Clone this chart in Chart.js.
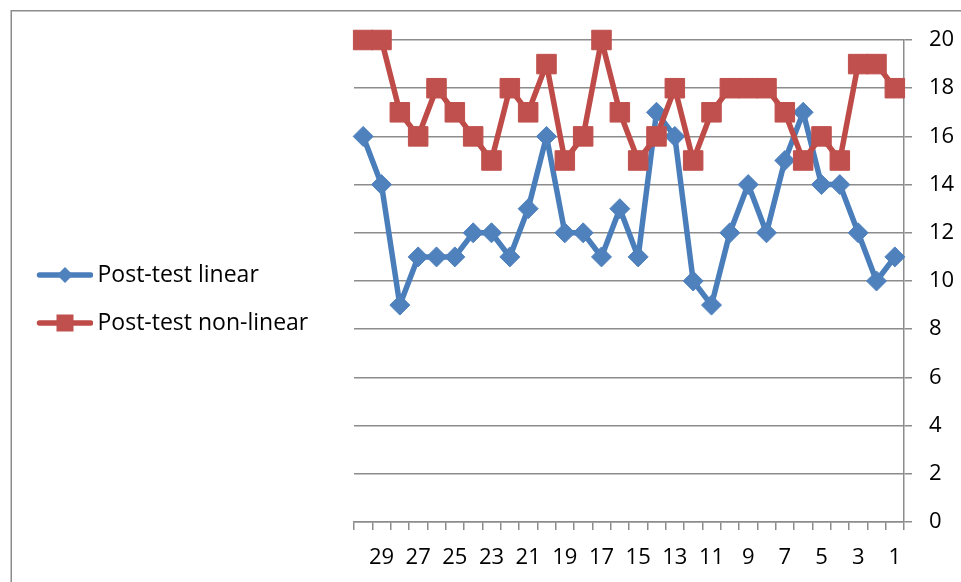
<!DOCTYPE html>
<html>
<head>
<meta charset="utf-8">
<title>Post-test scores</title>
<script src="https://cdn.jsdelivr.net/npm/chart.js@4.4.0/dist/chart.umd.min.js"></script>
<style>
  html, body { margin: 0; padding: 0; background: #fff; }
  canvas { display: block; }
</style>
</head>
<body>
<canvas id="chart" width="961" height="582"></canvas>
<script>
// Students 1..30 (axis runs from 30 on the left down to 1 on the right)
const students = [1, 2, 3, 4, 5, 6, 7, 8, 9, 10, 11, 12, 13, 14, 15,
                  16, 17, 18, 19, 20, 21, 22, 23, 24, 25, 26, 27, 28, 29, 30];

// Post-test scores per student, in student order 1..30
const postLinear    = [11, 10, 12, 14, 14, 17, 15, 12, 14, 12, 9, 10, 16, 17, 11,
                       13, 11, 12, 12, 16, 13, 11, 12, 12, 11, 11, 11, 9, 14, 16];
const postNonLinear = [18, 19, 19, 15, 16, 15, 17, 18, 18, 18, 17, 15, 18, 16, 15,
                       17, 20, 16, 15, 19, 17, 18, 15, 16, 17, 18, 16, 17, 20, 20];

// Axis labels
const scoreTicks = [0, 2, 4, 6, 8, 10, 12, 14, 16, 18, 20];
const shownStudentLabels = [29, 27, 25, 23, 21, 19, 17, 15, 13, 11, 9, 7, 5, 3, 1];

const seriesNames = ['Post-test linear', 'Post-test non-linear'];

const FONT = "'Open Sans', 'DejaVu Sans', sans-serif";
const GRID = '#8c8c8c';
const BLUE_LINE = '#4a7ebb', BLUE_FILL = '#4f81bd';
const RED_LINE = '#be4b48', RED_FILL = '#c0504d';

Chart.defaults.font.family = FONT;

// Legend symbols: a short line with the series marker in the middle
function makeLegendIcon(lineColor, fillColor, shape) {
  const c = document.createElement('canvas');
  c.width = 64; c.height = 24;
  const g = c.getContext('2d');
  g.strokeStyle = lineColor;
  g.lineWidth = 5.5;
  g.lineCap = 'round';
  g.beginPath();
  g.moveTo(10.5, 12);
  g.lineTo(61.5, 12);
  g.stroke();
  g.fillStyle = fillColor;
  if (shape === 'diamond') {
    g.beginPath();
    g.moveTo(28, 12); g.lineTo(36, 4); g.lineTo(44, 12); g.lineTo(36, 20);
    g.closePath();
    g.fill();
  } else {
    g.fillRect(27.5, 3.5, 17, 17);
  }
  return c;
}
const legendIcons = [
  makeLegendIcon(BLUE_LINE, BLUE_FILL, 'diamond'),
  makeLegendIcon(RED_LINE, RED_FILL, 'square')
];

// Outer frame lines (left and top edges of the chart box)
const framePlugin = {
  id: 'frame',
  beforeDraw(chart) {
    const ctx = chart.ctx;
    ctx.save();
    ctx.strokeStyle = GRID;
    ctx.lineWidth = 1.5;
    ctx.beginPath();
    ctx.moveTo(11.25, chart.height);
    ctx.lineTo(11.25, 10.75);
    ctx.lineTo(chart.width, 10.75);
    ctx.stroke();
    ctx.restore();
  }
};

// Left legend: fixed width so the plot starts where it should,
// and its entries centred a little above the middle of the canvas
const LEGEND_WIDTH = 343;
const LEGEND_MID = 299;
const legendPlacementPlugin = {
  id: 'legendPlacement',
  beforeLayout(chart) {
    const legend = chart.legend;
    if (!legend || legend._fixedWidth) return;
    const fit = legend.fit;
    legend.fit = function () {
      fit.call(this);
      this.width = LEGEND_WIDTH;
    };
    legend._fixedWidth = true;
  },
  afterLayout(chart) {
    const legend = chart.legend;
    if (!legend) return;
    const h = legend.bottom - legend.top;
    legend.top = LEGEND_MID - h / 2;
    legend.bottom = LEGEND_MID + h / 2;
  }
};

new Chart(document.getElementById('chart'), {
  type: 'line',
  data: {
    labels: students,
    datasets: [
      {
        label: seriesNames[0],
        data: postLinear,
        order: 1,
        borderColor: BLUE_LINE,
        backgroundColor: BLUE_FILL,
        borderWidth: 5.5,
        borderJoinStyle: 'round',
        tension: 0,
        pointStyle: 'rectRot',
        pointRadius: 10,
        pointBackgroundColor: BLUE_FILL,
        pointBorderColor: BLUE_FILL,
        pointBorderWidth: 1,
        clip: false
      },
      {
        label: seriesNames[1],
        data: postNonLinear,
        order: 0,
        borderColor: RED_LINE,
        backgroundColor: RED_FILL,
        borderWidth: 5.5,
        borderJoinStyle: 'round',
        tension: 0,
        pointStyle: 'rect',
        pointRadius: 13.8,
        pointBackgroundColor: RED_FILL,
        pointBorderColor: RED_FILL,
        pointBorderWidth: 1,
        clip: false
      }
    ]
  },
  options: {
    responsive: false,
    animation: false,
    events: [],
    layout: { padding: { left: 11, top: 40, right: 0, bottom: 0 } },
    plugins: {
      tooltip: { enabled: false },
      legend: {
        position: 'left',
        align: 'center',
        labels: {
          usePointStyle: true,
          pointStyleWidth: 50,
          padding: 25,
          color: '#000',
          font: { family: FONT, size: 23 },
          sort: (a, b) => a.datasetIndex - b.datasetIndex,
          generateLabels(chart) {
            const items = Chart.defaults.plugins.legend.labels.generateLabels(chart);
            items.forEach(it => { it.pointStyle = legendIcons[it.datasetIndex]; });
            return items;
          }
        }
      }
    },
    scales: {
      x: {
        type: 'category',
        reverse: true,
        offset: true,
        grid: {
          display: true,
          drawOnChartArea: false,
          drawTicks: true,
          tickLength: 8,
          offset: true,
          color: GRID,
          lineWidth: 1.5
        },
        border: { display: true, color: GRID, width: 1.5 },
        ticks: {
          autoSkip: false,
          maxRotation: 0,
          minRotation: 0,
          padding: 15,
          color: '#000',
          font: { size: 22 },
          callback(value) {
            const lab = this.getLabelForValue(value);
            return shownStudentLabels.includes(Number(lab)) ? String(lab) : '';
          }
        },
        afterFit(scale) { scale.height = 60; }
      },
      y: {
        position: 'right',
        min: scoreTicks[0],
        max: scoreTicks[scoreTicks.length - 1],
        afterBuildTicks(scale) {
          scale.ticks = scoreTicks.map(v => ({ value: v }));
        },
        ticks: {
          padding: 17,
          color: '#000',
          font: { size: 22 }
        },
        grid: { color: GRID, lineWidth: 1.5, tickLength: 8 },
        border: { display: true, color: GRID, width: 1.5 },
        afterFit(scale) { scale.width = 57; }
      }
    }
  },
  plugins: [framePlugin, legendPlacementPlugin]
});
</script>
</body>
</html>
